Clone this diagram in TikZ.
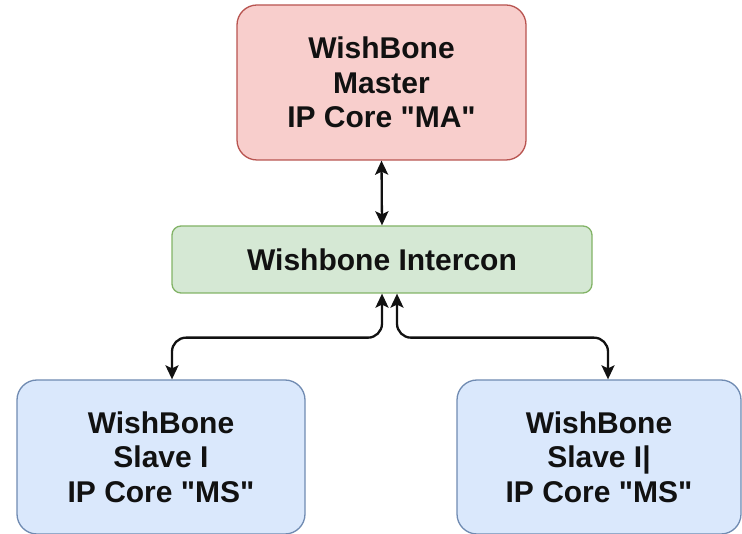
\documentclass[tikz,border=0pt]{standalone}
\usepackage{fontspec}
\setmainfont{Liberation Sans}[Ligatures=TeXOff]
\usetikzlibrary{arrows.meta}
\definecolor{masterfill}{HTML}{F8CECC}
\definecolor{masterline}{HTML}{B85450}
\definecolor{icfill}{HTML}{D5E8D4}
\definecolor{icline}{HTML}{82B366}
\definecolor{slavefill}{HTML}{DAE8FC}
\definecolor{slaveline}{HTML}{6C8EBF}
\definecolor{ink}{HTML}{111111}
\tikzset{
  block/.style={draw, line width=1.3pt, rounded corners=20pt, align=center,
    font=\fontsize{30}{34.5}\selectfont\bfseries, text=ink, inner sep=0pt},
  masterbox/.style={block, fill=masterfill, draw=masterline,
    minimum width=289pt, minimum height=155pt},
  icbox/.style={block, fill=icfill, draw=icline, rounded corners=9pt,
    minimum width=420pt, minimum height=67pt},
  slavebox/.style={block, fill=slavefill, draw=slaveline!80!gray,
    minimum height=154pt},
  conn/.style={draw=ink, line width=2.3pt, rounded corners=14pt,
    {Stealth[length=14pt,width=13pt,inset=3pt]}-{Stealth[length=14pt,width=13pt,inset=3pt]}}
}
\begin{document}
\begin{tikzpicture}[x=1pt,y=-1pt]
  \useasboundingbox (0,0) rectangle (742,534);
  \node[masterbox] (ma) at (381.5,82.5) {WishBone\\Master\\IP Core "MA"};
  \node[icbox] (ic) at (382,259.5) {Wishbone Intercon};
  \node[slavebox, minimum width=288pt] (s1) at (161,457) {WishBone\\Slave I\\IP Core "MS"};
  \node[slavebox, minimum width=284pt] (s2) at (599,457) {WishBone\\Slave I|\\IP Core "MS"};

  \draw[conn] (ma.south) -- (ic.north);
  \draw[conn] (ic.south) -- ++(0,44) -| ([xshift=11pt]s1.north);
  \draw[conn] ([xshift=15pt]ic.south) -- ++(0,44) -| ([xshift=9pt]s2.north);
\end{tikzpicture}
\end{document}
